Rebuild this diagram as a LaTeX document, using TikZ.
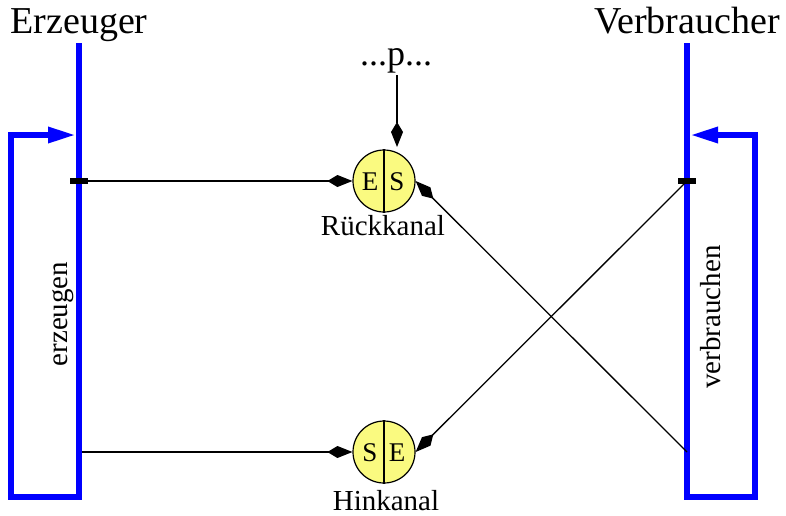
\documentclass[tikz,border=0pt]{standalone}
\usepackage{fontspec}
\setmainfont{Liberation Serif}
\usetikzlibrary{arrows.meta}
\definecolor{chanfill}{RGB}{250,250,128}
\tikzset{
  rail/.style={draw=blue, line width=6pt, line cap=butt},
  loop/.style={draw=blue, line width=6pt, miter limit=10,
    -{Triangle[length=28pt,width=15pt]}},
  wire/.style={draw=black, line width=1.3pt,
    -{Kite[length=25pt,width=12pt,inset=10pt]}},
  plain/.style={draw=black, line width=1.3pt},
  tickmark/.style={fill=black, minimum width=18pt, minimum height=6pt, inner sep=0pt},
  chan/.style={circle, draw=black, line width=1.2pt, fill=chanfill,
    minimum size=62pt, inner sep=0pt},
  title/.style={font=\fontsize{38}{42}\selectfont, anchor=base},
  small/.style={font=\fontsize{29}{32}\selectfont, anchor=base, inner sep=0pt},
  letter/.style={font=\fontsize{27}{30}\selectfont, anchor=base, inner sep=0pt},
}
\begin{document}
\begin{tikzpicture}[x=1pt, y=-1pt]
  \useasboundingbox (0,0) rectangle (786,515);

  % titles
  \node[title] (tErz) at (79,33) {Erzeuger};
  \node[title] (tVer) at (687,33) {Verbraucher};

  % rails of producer and consumer
  \coordinate (eTop) at (79,43);
  \coordinate (eBot) at (79,500);
  \coordinate (vTop) at (687,43);
  \coordinate (vBot) at (687,500);
  \draw[rail] (eTop) -- (eBot);
  \draw[rail] (vTop) -- (vBot);

  % feedback loops
  \coordinate (eLoopA) at (79,497);
  \coordinate (eLoopB) at (76,135);
  \coordinate (vLoopA) at (687,497);
  \coordinate (vLoopB) at (690,135);
  \draw[loop] (eLoopA) -- (11,497) -- (11,135) -- (eLoopB);
  \draw[loop] (vLoopA) -- (755,497) -- (755,135) -- (vLoopB);

  % rail labels
  \node[small, rotate=90, anchor=center] (lErz) at (63,314) {erzeugen};
  \node[small, rotate=90, anchor=center] (lVer) at (711,317) {verbrauchen};

  % channels
  \node[chan] (rk) at (384,181) {};
  \node[chan] (hk) at (384,452) {};
  \draw[plain] (rk.north) -- (rk.south);
  \draw[plain] (hk.north) -- (hk.south);
  \node[letter] (rkE) at (370,190) {E};
  \node[letter] (rkS) at (397,190) {S};
  \node[letter] (hkS) at (370,461) {S};
  \node[letter] (hkE) at (397,461) {E};
  \node[small] (rkName) at (383,235) {Rückkanal};
  \node[small] (hkName) at (386,510) {Hinkanal};

  % parameter input
  \node[small, font=\fontsize{36}{40}\selectfont] (par) at (396,65) {...p...};
  \coordinate (parA) at (397,75);
  \coordinate (parB) at (397,147);
  \draw[wire] (parA) -- (parB);

  % ticks on the rails
  \node[tickmark] (tickL) at (79,181) {};
  \node[tickmark] (tickR) at (687,181) {};
  \coordinate (eOut) at (82,452);
  \coordinate (vIn) at (687,452);

  % connections
  \draw[wire] (tickL.east) -- (rk.west);
  \draw[wire] (eOut) -- (hk.west);
  \draw[wire] (tickR.center) -- (hk.east);
  \draw[wire] (vIn) -- (rk.east);
\end{tikzpicture}
\end{document}
